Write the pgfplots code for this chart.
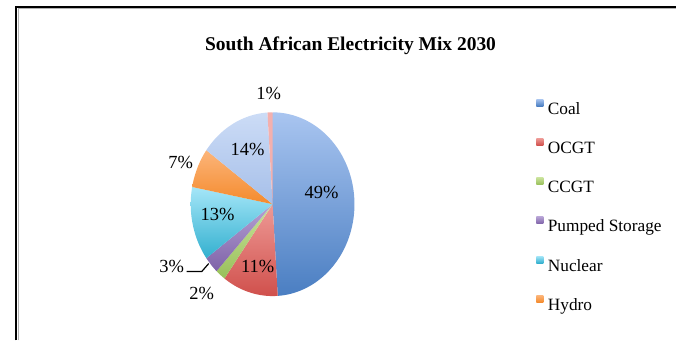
\documentclass[border=0pt]{standalone}
\usepackage{pgfplots}
\pgfplotsset{compat=1.18}
\usepackage{fontspec}
\setmainfont{Liberation Serif}
\definecolor{coalT}{HTML}{A9C5F0}\definecolor{coalB}{HTML}{4A7EC2}
\definecolor{ocgtT}{HTML}{EE9A96}\definecolor{ocgtB}{HTML}{D0504C}
\definecolor{ccgtT}{HTML}{C9E29B}\definecolor{ccgtB}{HTML}{98C05A}
\definecolor{pumpT}{HTML}{B6A2D4}\definecolor{pumpB}{HTML}{7E62A8}
\definecolor{nucT}{HTML}{A5E6F8}\definecolor{nucB}{HTML}{33B0CF}
\definecolor{hydT}{HTML}{FCB57A}\definecolor{hydB}{HTML}{F48A2C}
\definecolor{othT}{HTML}{CCDCF6}\definecolor{othB}{HTML}{A6BFE9}
\definecolor{pinkS}{HTML}{F3B0AE}
% pie geometry (pixels): centre and radii
\def\cx{273}\def\cy{204.5}\def\rx{82}\def\ry{92}
\begin{document}
\begin{tikzpicture}
\begin{axis}[
  scale only axis, width=677pt, height=341pt,
  xmin=0, xmax=677, ymin=0, ymax=341, y dir=reverse,
  hide axis, clip=false,
  legend style={at={(axis cs:537,99)}, anchor=north west, draw=none, fill=none,
    inner sep=0pt, row sep=20.3pt,
    nodes={inner sep=0pt, text height=15pt, text depth=4pt, anchor=base west},
    font=\fontsize{17.3}{20}\selectfont,
    /tikz/every odd column/.append style={column sep=4.5pt}},
  legend cell align=left,
  legend image code/.code={\path[#1,draw=none] (0pt,8pt) rectangle (7pt,15pt);},
]
\path (axis cs:0,0) rectangle (axis cs:677,341);
% percentages (cumulative share of 100%)
\addplot[top color=coalT, bottom color=coalB, draw=none, domain={3.6*0}:{3.6*49}, samples=90, variable=\t]
  ({\cx+\rx*sin(\t)},{\cy-\ry*cos(\t)}) -- (axis cs:\cx,\cy) -- cycle;
\addlegendentry{Coal}
\addplot[top color=ocgtT, bottom color=ocgtB, draw=none, domain={3.6*49}:{3.6*60}, samples=30, variable=\t]
  ({\cx+\rx*sin(\t)},{\cy-\ry*cos(\t)}) -- (axis cs:\cx,\cy) -- cycle;
\addlegendentry{OCGT}
\addplot[top color=ccgtT, bottom color=ccgtB, draw=none, domain={3.6*60}:{3.6*62}, samples=10, variable=\t]
  ({\cx+\rx*sin(\t)},{\cy-\ry*cos(\t)}) -- (axis cs:\cx,\cy) -- cycle;
\addlegendentry{CCGT}
\addplot[top color=pumpT, bottom color=pumpB, draw=none, domain={3.6*62}:{3.6*65}, samples=10, variable=\t]
  ({\cx+\rx*sin(\t)},{\cy-\ry*cos(\t)}) -- (axis cs:\cx,\cy) -- cycle;
\addlegendentry{Pumped Storage}
\addplot[top color=nucT, bottom color=nucB, draw=none, domain={3.6*65}:{3.6*78}, samples=30, variable=\t]
  ({\cx+\rx*sin(\t)},{\cy-\ry*cos(\t)}) -- (axis cs:\cx,\cy) -- cycle;
\addlegendentry{Nuclear}
\addplot[top color=hydT, bottom color=hydB, draw=none, domain={3.6*78}:{3.6*85}, samples=20, variable=\t]
  ({\cx+\rx*sin(\t)},{\cy-\ry*cos(\t)}) -- (axis cs:\cx,\cy) -- cycle;
\addlegendentry{Hydro}
\addplot[top color=othT, bottom color=othB, draw=none, domain={3.6*85}:{3.6*99}, samples=30, variable=\t, forget plot]
  ({\cx+\rx*sin(\t)},{\cy-\ry*cos(\t)}) -- (axis cs:\cx,\cy) -- cycle;
\addplot[fill=pinkS, draw=none, domain={3.6*99}:{3.6*100}, samples=5, variable=\t, forget plot]
  ({\cx+\rx*sin(\t)},{\cy-\ry*cos(\t)}) -- (axis cs:\cx,\cy) -- cycle;
% frame
\draw[gray!60, line width=1pt] (axis cs:18.5,341) -- (axis cs:18.5,9) -- (axis cs:677,9);
\draw[black, line width=2pt] (axis cs:16.5,341) -- (axis cs:16.5,7) -- (axis cs:677,7);
% title
\node[anchor=base, font=\bfseries\fontsize{19.5}{22}\selectfont] at (axis cs:351,51) {South African Electricity Mix 2030};
% data labels
\begin{scope}[every node/.style={font=\fontsize{18.5}{20}\selectfont, inner sep=0pt}]
\node at (axis cs:322,193) {49\%};
\node at (axis cs:258,267) {11\%};
\node at (axis cs:202,294) {2\%};
\node at (axis cs:172,267) {3\%};
\node at (axis cs:218,215) {13\%};
\node at (axis cs:181,163) {7\%};
\node at (axis cs:248,150) {14\%};
\node at (axis cs:269,94) {1\%};
\end{scope}
\draw[black, line width=1.2pt] (axis cs:187,272) -- (axis cs:202,272) -- (axis cs:209,264);
\end{axis}
\end{tikzpicture}
\end{document}
